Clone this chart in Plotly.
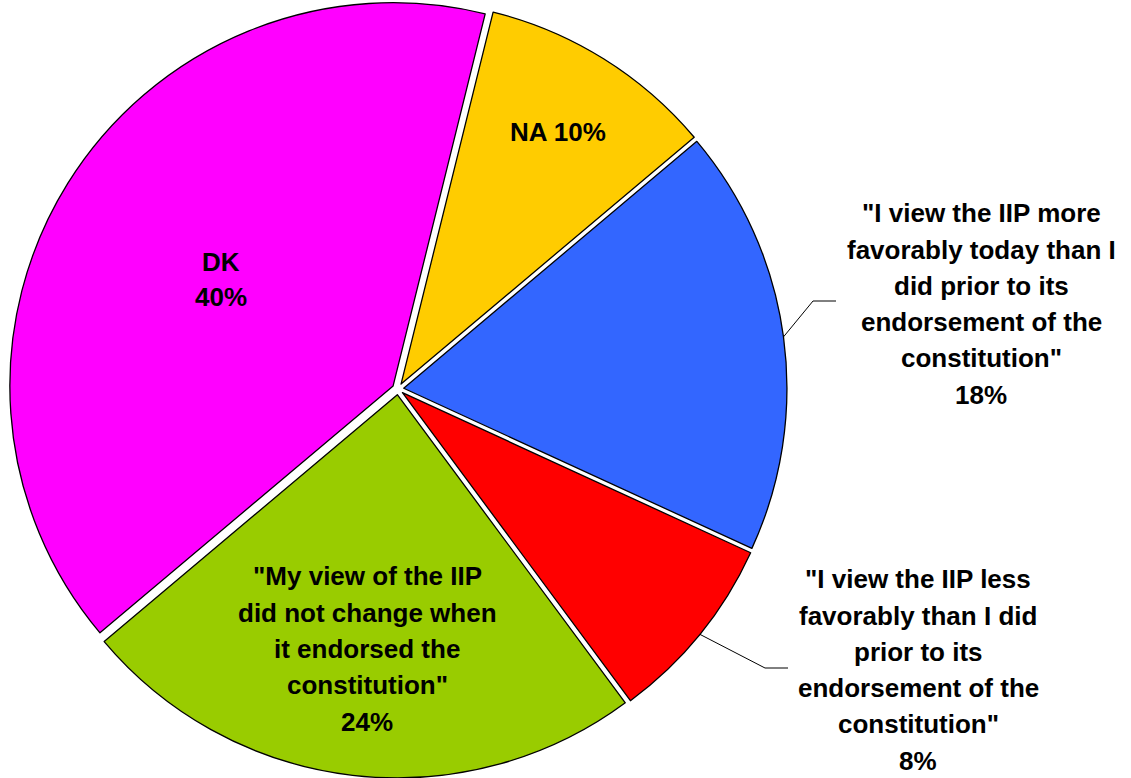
import math
import plotly.graph_objects as go

# ---------------- data ----------------
slice_names = ["NA", "More favorably", "Less favorably", "No change", "DK"]
values = [10, 18, 8, 24, 40]
colors = ["#FFCC00", "#3366FF", "#FF0000", "#99CC00", "#FF00FF"]
label_text = [
    ["NA"],
    ['"I view the IIP more', 'favorably today than I', 'did prior to its',
     'endorsement of the', 'constitution"'],
    ['"I view the IIP less', 'favorably than I did', 'prior to its',
     'endorsement of the', 'constitution"'],
    ['"My view of the IIP', 'did not change when', 'it endorsed the',
     'constitution"'],
    ["DK"],
]

# ---------------- layout / style ----------------
W, H = 1131, 778
PIE_BOX_W = 796
PULL = 0.015
ROTATION = 13.9
R = H / (2 + 2 * PULL)
CX, CY = PIE_BOX_W / 2, H / 2
FONT = dict(family="Liberation Sans, Arial, sans-serif", size=26, color="black", weight=700)
LINE_SP = 36.3

# inside labels: radial fraction ; outside labels: text centre + leader elbow/end (px)
placement = {
    0: dict(kind="in", frac=0.79, inline=True),
    1: dict(kind="out", cx=981, cy=304, elbow=(813, 301), end=(836, 301)),
    2: dict(kind="out", cx=918, cy=670, elbow=(765, 668), end=(788, 668)),
    3: dict(kind="in", frac=0.683),
    4: dict(kind="in", frac=0.543, spacing=35),
}


def px(x, y):
    return x / W, 1 - y / H


total = sum(values)
mids = []
acc = 0
for v in values:
    mids.append(ROTATION + 360 * (acc + v / 2) / total)
    acc += v

fig = go.Figure(go.Pie(
    labels=slice_names, values=values, sort=False, direction="clockwise",
    rotation=ROTATION, pull=PULL, textinfo="none", hoverinfo="label+percent",
    marker=dict(colors=colors, line=dict(color="black", width=1.3)),
    domain=dict(x=[0, PIE_BOX_W / W], y=[0, 1]), showlegend=False,
))

annotations = []
shapes = []
for i, v in enumerate(values):
    p = placement[i]
    pct = f"{v}%"
    if p.get("inline"):
        lines = [label_text[i][0] + " " + pct]
    else:
        lines = label_text[i] + [pct]
    th = math.radians(mids[i])
    if p["kind"] == "in":
        cx = CX + p["frac"] * R * math.sin(th)
        cy = CY - p["frac"] * R * math.cos(th)
    else:
        cx, cy = p["cx"], p["cy"]
        sx = CX + R * (1 + PULL) * math.sin(th)
        sy = CY - R * (1 + PULL) * math.cos(th)
        x0, y0 = px(sx, sy)
        x1, y1 = px(*p["elbow"])
        x2, y2 = px(*p["end"])
        shapes.append(dict(type="line", xref="paper", yref="paper", x0=x0, y0=y0, x1=x1, y1=y1,
                           line=dict(color="black", width=1)))
        shapes.append(dict(type="line", xref="paper", yref="paper", x0=x1, y0=y1, x1=x2, y1=y2,
                           line=dict(color="black", width=1)))
    sp = p.get("spacing", LINE_SP)
    n = len(lines)
    for k, t in enumerate(lines):
        ly = cy + (k - (n - 1) / 2) * sp
        ax, ay = px(cx, ly)
        annotations.append(dict(text=t, x=ax, y=ay, xref="paper", yref="paper",
                                xanchor="center", yanchor="middle", showarrow=False, font=FONT))

fig.update_layout(
    width=W, height=H, margin=dict(l=0, r=0, t=0, b=0),
    paper_bgcolor="white", plot_bgcolor="white",
    annotations=annotations, shapes=shapes,
)

fig.write_html("out.html", config={"displayModeBar": False},
               post_script="document.body.style.margin='0';")
